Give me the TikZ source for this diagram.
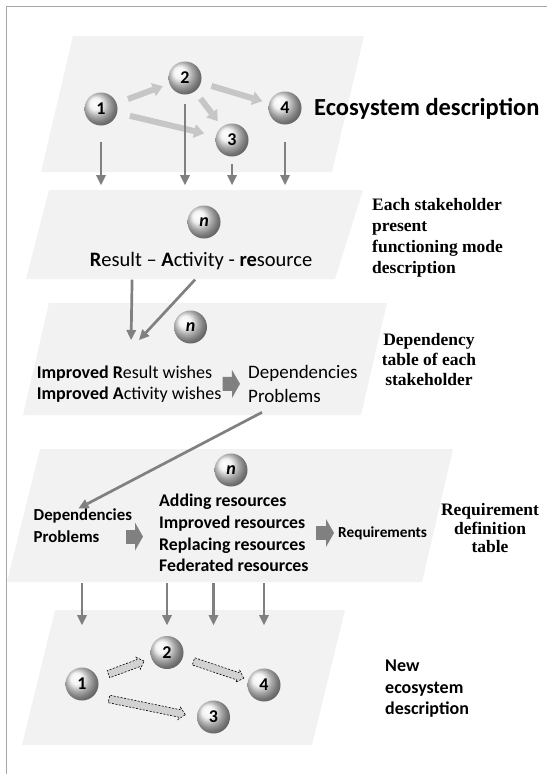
\documentclass[tikz,border=0pt]{standalone}
\usepackage{fontspec}
\setmainfont{Carlito}
\newfontfamily\timesf{Liberation Serif}
\usetikzlibrary{arrows.meta,shapes.arrows}
\begin{document}
\begin{tikzpicture}[x=1pt,y=-1pt,every node/.style={black,inner sep=0pt},
  layer/.style={fill=gray!10},
  ball/.style={circle,shading=ball,ball color=gray!12,minimum size=33pt,font=\fontsize{18}{18}\selectfont\bfseries},
  darr/.style={draw=gray,line width=2.7pt,-{Triangle[length=10pt,width=10pt,line width=0pt]}},
  larr/.style={draw=gray!45,line width=6pt,-{Triangle[length=10pt,width=14pt,line width=0pt]}},
  blockarr/.style={draw=gray,line width=14pt,-{Triangle[length=8pt,width=28pt,line width=0pt]}},
  dasharr/.style={single arrow,draw,dash pattern=on 2pt off 1.5pt,line width=0.6pt,fill=gray!35,inner xsep=0pt,inner ysep=3.5pt,single arrow head extend=2.5pt,midway,sloped},
  sidelab/.style={font=\fontsize{17.5}{#1}\selectfont\timesf\bfseries}]
\useasboundingbox (0,0) rectangle (547,774);
\draw[gray!70,line width=0.8pt] (6,774) -- (6,6) -- (547,6);

\fill[layer] (73,36) -- (364,36) -- (332,172) -- (41,172) -- cycle;
\fill[layer] (49,190) -- (363,190) -- (335,279) -- (26,279) -- cycle;
\fill[layer] (49,303) -- (387,303) -- (361,415) -- (23,415) -- cycle;
\fill[layer] (40,449) -- (453,449) -- (422,582) -- (7,582) -- cycle;
\fill[layer] (55,610) -- (345,610) -- (312,745) -- (22,745) -- cycle;

\node[ball] (b1) at (101,109) {1};
\node[ball] (b2) at (185,78) {2};
\node[ball] (b3) at (232,140) {3};
\node[ball] (b4) at (285,108) {4};
\draw[larr,shorten <=12pt,shorten >=7pt] (b1) -- (b2);
\draw[larr,shorten <=11pt,shorten >=7pt] (b2) -- (b4);
\draw[larr,shorten <=9pt,shorten >=7pt] (b2) -- (b3);
\draw[larr,shorten <=13pt,shorten >=12pt] (b1) -- (b3);
\node[anchor=base west,font=\fontsize{24.5}{28}\selectfont\bfseries] (eco) at (314,115.7) {Ecosystem description};

\coordinate (in2) at (0,185);
\draw[darr,shorten <=16pt] (b1) -- (b1 |- in2);
\draw[darr,shorten <=9pt] (b2) -- (b2 |- in2);
\draw[darr,shorten <=7pt] (b3) -- (b3 |- in2);
\draw[darr,shorten <=17pt] (b4) -- (b4 |- in2);

\node[ball] (n2) at (204,222) {\textit{n}};
\node[anchor=base,font=\fontsize{20.5}{24}\selectfont] (rar) at (201,266.6) {\textbf{R}esult -- \textbf{A}ctivity - \textbf{re}source};
\node[sidelab=21,anchor=base west,align=left] (lab2) at (372,273.8) {Each stakeholder\\present\\functioning mode\\description};

\node[ball] (n3) at (190.5,327) {\textit{n}};
\node[anchor=base west,align=left,font=\fontsize{18}{21}\selectfont] (wish) at (36.6,399.8) {\textbf{Improved R}esult wishes\\\textbf{Improved A}ctivity wishes};
\node[anchor=base west,align=left,font=\fontsize{19}{24}\selectfont] (dep3) at (248,402) {Dependencies\\Problems};
\draw[blockarr,shorten <=1pt,shorten >=8pt] (wish) -- (dep3);
\node[sidelab=20,align=center,anchor=base] (lab3) at (429,385.8) {Dependency\\table of each\\stakeholder};

\draw[darr] ([xshift=42.5pt,yshift=-9.5pt]rar.south west) -- ([xshift=94.5pt,yshift=26pt]wish.north west);
\draw[darr] ([xshift=105.5pt,yshift=-9.5pt]rar.south west) -- ([xshift=102.5pt,yshift=26pt]wish.north west);

\node[ball] (n4) at (231,470) {\textit{n}};
\node[anchor=base west,font=\fontsize{16.8}{20}\selectfont\bfseries] (dep4) at (33.5,520.4) {Dependencies};
\node[anchor=base west,font=\fontsize{16.8}{20}\selectfont\bfseries] (prob4) at (33.5,542.4) {Problems};
\node[anchor=base west,align=left,font=\fontsize{17.8}{21.7}\selectfont\bfseries] (res4) at (159,571.7) {Adding resources\\Improved resources\\Replacing resources\\Federated resources};
\node[anchor=base west,font=\fontsize{15.3}{18}\selectfont\bfseries] (req4) at (338,537) {Requirements};
\draw[blockarr,shorten <=26.5pt,shorten >=16pt] (prob4) -- (prob4 -| res4.west);
\draw[blockarr,shorten <=7.5pt,shorten >=4pt] (res4) -- (res4 -| req4.west);
\node[sidelab=18.5,align=center,anchor=base] (lab4) at (490,552.8) {Requirement\\definition\\table};

\draw[darr] ([xshift=14pt,yshift=-10pt]dep3.south west) -- ([xshift=45pt]dep4.north west);

\node[ball] (m1) at (82,684) {1};
\node[ball] (m2) at (167,652.5) {2};
\node[ball] (m3) at (213.5,717) {3};
\node[ball] (m4) at (264,685) {4};
\coordinate (out4) at (0,583);
\coordinate (in5) at (0,625);
\foreach \b in {m1,m2,m3,m4}
  \draw[darr] (\b |- out4) -- (\b |- in5);
\path (m1) -- (m2) node[dasharr,minimum height=38pt] {};
\path (m2) -- (m4) node[dasharr,minimum height=53pt,pos=0.52] {};
\path (m1.south east) -- (m3.west) node[dasharr,minimum height=78pt] {};
\node[anchor=base west,align=left,font=\fontsize{18}{21.5}\selectfont\bfseries] (lab5) at (385,714.8) {New\\ecosystem\\description};
\end{tikzpicture}
\end{document}
